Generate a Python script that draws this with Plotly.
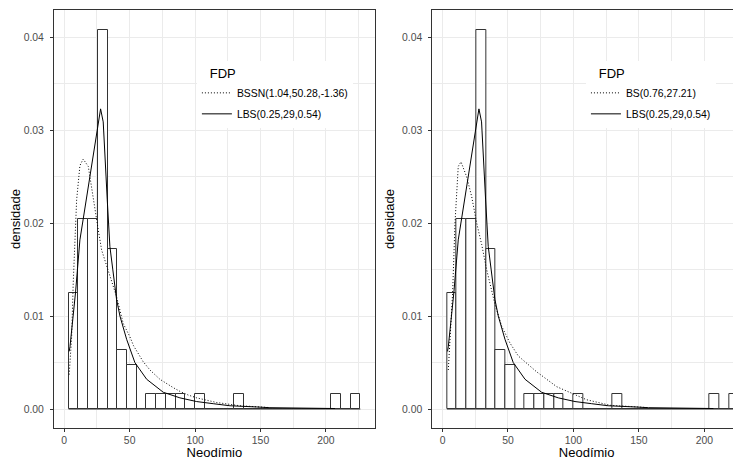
import plotly.graph_objects as go

# ---------------- data ----------------
bin_start = 3.36
bin_width = 7.43
hist_density = [0.0125, 0.0204, 0.0204, 0.0408, 0.0172, 0.0063, 0.0047, 0.0,
                 0.0016, 0.0016, 0.0016, 0.0016, 0.0, 0.0016, 0.0, 0.0, 0.0,
                 0.0016, 0.0, 0.0, 0.0, 0.0, 0.0, 0.0, 0.0, 0.0, 0.0, 0.0016,
                 0.0, 0.0016]

# BSSN(1.04,50.28,-1.36) density (dotted, left panel)
bssn_x = [3.8, 5.7, 6.9, 9.5, 12.0, 14.5, 18.4, 22.2, 26.0, 28.6, 33.6, 40.0,
          45.1, 50.1, 53.0, 60.3, 65.5, 73.1, 83.3, 88.4, 94.8, 101.2, 116.4,
          134.2, 157.0]
bssn_y = [0.0037, 0.0078, 0.0136, 0.0225, 0.0262, 0.0269, 0.0261, 0.0225,
          0.0193, 0.0171, 0.0150, 0.0121, 0.0092, 0.0078, 0.0068, 0.0051,
          0.0042, 0.0032, 0.0023, 0.0019, 0.0015, 0.0012, 0.0007, 0.00035,
          0.00015]

# BS(0.76,27.21) density (dotted, right panel)
bs_x = [4.4, 5.7, 7.7, 9.5, 12.0, 14.1, 18.4, 22.2, 26.1, 29.9, 33.7, 40.0,
        45.2, 51.5, 57.9, 71.9, 87.2, 110.0, 128.0, 157.0]
bs_y = [0.0042, 0.0075, 0.0125, 0.0200, 0.0261, 0.0266, 0.0250, 0.0229,
        0.0200, 0.0177, 0.0150, 0.0113, 0.0089, 0.0071, 0.0057, 0.0040,
        0.0024, 0.0010, 0.0004, 0.00015]

# LBS(0.25,29,0.54) density (solid, both panels)
lbs_x = [3.8, 4.4, 8.7, 12.0, 27.8, 29.8, 32.9, 34.9, 40.0, 42.6, 47.7, 54.0,
         63.0, 75.7, 88.4, 101.2, 113.9, 126.6, 147.0, 157.2, 206.9]
lbs_y = [0.0062, 0.0067, 0.0126, 0.0182, 0.0323, 0.0309, 0.0225, 0.0175,
         0.0118, 0.0100, 0.0075, 0.0050, 0.0032, 0.0018, 0.0012, 0.0008,
         0.00057, 0.00035, 0.00022, 0.00014, 0.00005]

x_ticks = [0, 50, 100, 150, 200]
y_ticks = [0.00, 0.01, 0.02, 0.03, 0.04]

# ---------------- figure ----------------
FONT = "Liberation Sans, Arial, sans-serif"
n_bins = len(hist_density)
bin_centers = [bin_start + bin_width * (i + 0.5) for i in range(n_bins)]
bin_edges = [bin_start, bin_start + bin_width * n_bins]

fig = go.Figure()

panels = [
    ("x", "y", "legend", "BSSN(1.04,50.28,-1.36)", bssn_x, bssn_y),
    ("x2", "y2", "legend2", "BS(0.76,27.21)", bs_x, bs_y),
]
for xa, ya, leg, dname, dx, dy in panels:
    fig.add_trace(go.Bar(
        x=bin_centers, y=hist_density, width=bin_width,
        marker=dict(color="white", line=dict(color="#333333", width=1)),
        xaxis=xa, yaxis=ya, showlegend=False, hoverinfo="skip"))
    fig.add_trace(go.Scatter(
        x=bin_edges, y=[0, 0], mode="lines",
        line=dict(color="#333333", width=1.2),
        xaxis=xa, yaxis=ya, showlegend=False, hoverinfo="skip"))
    fig.add_trace(go.Scatter(
        x=dx, y=dy, mode="lines", name=dname,
        line=dict(color="black", width=1, dash="1px,2px"),
        xaxis=xa, yaxis=ya, legend=leg, legendgroup=dname + leg))
    fig.add_trace(go.Scatter(
        x=lbs_x, y=lbs_y, mode="lines", name="LBS(0.25,29,0.54)",
        line=dict(color="black", width=1),
        xaxis=xa, yaxis=ya, legend=leg, legendgroup="lbs" + leg))

axis_common = dict(
    showgrid=True, gridcolor="#EBEBEB", gridwidth=1, zeroline=False,
    showline=True, linecolor="#333333", linewidth=1,
    ticks="outside", ticklen=3, tickcolor="#333333", tickwidth=1,
    tickfont=dict(family=FONT, size=10.4, color="#4D4D4D"),
)
x_common = dict(axis_common, tickvals=x_ticks,
                minor=dict(dtick=25, tick0=0, showgrid=True,
                           gridcolor="#EBEBEB", gridwidth=0.5),
                title=dict(text="Neodímio", font=dict(family=FONT, size=13, color="black"),
                           standoff=2))
y_common = dict(axis_common, tickvals=y_ticks, tickformat=".2f",
                range=[-0.002045, 0.04294], domain=[0, 1],
                ticklabelstandoff=4,
                minor=dict(dtick=0.005, tick0=0, showgrid=True,
                           gridcolor="#EBEBEB", gridwidth=0.5),
                title=dict(text="densidade", font=dict(family=FONT, size=13, color="black"),
                           standoff=4))

legend_common = dict(
    xanchor="left", yanchor="top", bgcolor="white", borderwidth=0,
    title=dict(text="\u00a0\u00a0\u00a0FDP", font=dict(family=FONT, size=13, color="black")),
    font=dict(family=FONT, size=10.4, color="black"),
    tracegroupgap=2, itemwidth=30,
)

# the page body has an 8px default margin, so the figure is drawn 8px smaller
fig.update_layout(
    width=733, height=452,
    margin=dict(l=46.1, r=0, t=2, b=31.7, pad=0),
    plot_bgcolor="white", paper_bgcolor="white",
    bargap=0, barmode="overlay",
    font=dict(family=FONT, size=10.4, color="#4D4D4D"),
    xaxis=dict(x_common, domain=[0, 0.4669], range=[-7.8, 237.3], anchor="y", mirror=True),
    yaxis=dict(y_common, anchor="x", mirror=True),
    xaxis2=dict(x_common, domain=[0.5507, 1], range=[-7.8, 228.0], anchor="y2", mirror=True),
    yaxis2=dict(y_common, anchor="x2", mirror=False),
    legend=dict(legend_common, x=0.2080, y=0.8769),
    legend2=dict(legend_common, x=0.7743, y=0.8769),
)

fig.write_html("out.html")
